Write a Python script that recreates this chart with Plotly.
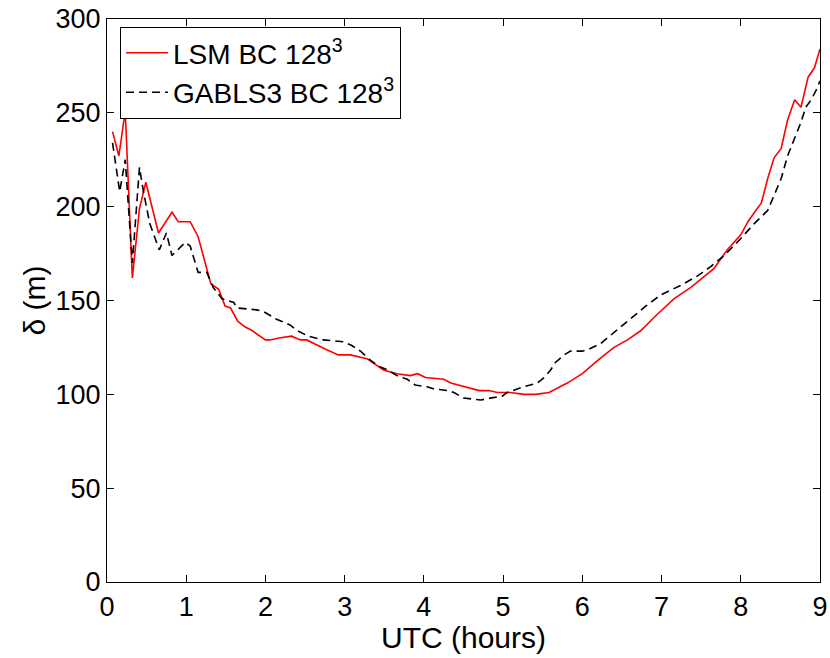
import plotly.graph_objects as go

# LSM BC 128^3 (red solid)
lsm_t = [0.07, 0.15, 0.23, 0.32, 0.41, 0.49, 0.65, 0.82, 0.90, 1.05, 1.15, 1.31, 1.41, 1.49,
         1.56, 1.65, 1.74, 1.83, 2.00, 2.06, 2.17, 2.33, 2.44, 2.52, 2.76, 2.92, 3.07, 3.28,
         3.49, 3.66, 3.83, 3.92, 4.02, 4.25, 4.34, 4.53, 4.70, 4.82, 4.93, 5.09, 5.26, 5.41,
         5.58, 5.81, 6.00, 6.11, 6.19, 6.40, 6.57, 6.74, 6.93, 7.16, 7.37, 7.66, 7.83, 8.00,
         8.09, 8.19, 8.26, 8.34, 8.42, 8.51, 8.59, 8.68, 8.76, 8.85, 8.93, 9.00]
lsm_d = [240, 227, 251, 162, 199, 213, 186, 197, 192, 192, 184, 159, 156, 147,
         146, 139, 136, 134, 129, 129, 130, 131, 129, 129, 124, 121, 121, 119,
         113, 111, 110, 111, 109, 108, 106, 104, 102, 102, 101, 101, 100, 100,
         101, 106, 111, 115, 118, 125, 129, 134, 142, 151, 157, 167, 177, 185,
         192, 198, 202, 215, 226, 231, 246, 257, 253, 269, 274, 284]

# GABLS3 BC 128^3 (black dashed)
gab_t = [0.07, 0.16, 0.23, 0.32, 0.41, 0.46, 0.54, 0.66, 0.75, 0.82, 0.99, 1.05, 1.15, 1.26,
         1.34, 1.45, 1.60, 1.64, 1.89, 1.98, 2.14, 2.31, 2.40, 2.54, 2.73, 2.99, 3.09, 3.20,
         3.30, 3.43, 3.54, 3.66, 3.79, 3.89, 4.04, 4.12, 4.29, 4.38, 4.50, 4.72, 4.84, 4.99,
         5.05, 5.18, 5.26, 5.43, 5.52, 5.60, 5.66, 5.77, 5.85, 6.00, 6.08, 6.23, 6.40, 6.61,
         6.80, 6.99, 7.24, 7.45, 7.62, 7.79, 8.00, 8.17, 8.34, 8.42, 8.51, 8.59, 8.68, 8.76,
         8.82, 8.89, 8.95, 9.00]
gab_d = [234, 208, 225, 170, 221, 208, 191, 177, 186, 174, 181, 179, 165, 165,
         157, 151, 149, 146, 145, 144, 140, 137, 134, 131, 129, 128, 126, 123,
         119, 115, 113, 110, 108, 105, 104, 103, 102, 101, 98, 97, 98, 99,
         101, 103, 104, 106, 109, 113, 117, 121, 123, 123, 124, 127, 133, 140,
         147, 153, 158, 163, 168, 174, 183, 191, 198, 206, 215, 227, 236, 245,
         253, 257, 262, 267]

x_ticks = list(range(0, 10))
y_ticks = list(range(0, 301, 50))
x_title = "UTC (hours)"
y_title = "δ (m)"

font_family = "Liberation Sans, Arial, Helvetica, sans-serif"

fig = go.Figure()
fig.add_trace(go.Scatter(x=lsm_t, y=lsm_d, mode="lines", name="LSM BC 128<sup>3</sup>",
                         line=dict(color="#ff0000", width=1.6)))
fig.add_trace(go.Scatter(x=gab_t, y=gab_d, mode="lines", name="GABLS3 BC 128<sup>3</sup>",
                         line=dict(color="#000000", width=1.6, dash="8px,5px")))

axis_common = dict(showline=True, linecolor="black", linewidth=1.2, mirror="ticks",
                   ticks="inside", ticklen=7, tickcolor="black", showgrid=False,
                   zeroline=False, automargin=False,
                   tickfont=dict(size=27, color="black"))

fig.update_layout(
    width=830, height=658,
    margin=dict(l=107, r=10, t=19, b=76),
    plot_bgcolor="white", paper_bgcolor="white",
    font=dict(family=font_family, color="black"),
    xaxis=dict(range=[0, 9], tickvals=x_ticks, **axis_common),
    yaxis=dict(range=[0, 300], tickvals=y_ticks, **axis_common),
    legend=dict(x=0.018, y=0.986, xanchor="left", yanchor="top",
                bgcolor="white", bordercolor="black", borderwidth=1.2,
                itemwidth=42,
                font=dict(size=28, color="black"), tracegroupgap=0),
    showlegend=True,
    annotations=[
        dict(text=x_title, xref="paper", yref="paper", x=0.5, y=-0.098,
             xanchor="center", yanchor="middle", showarrow=False,
             font=dict(size=30, color="black")),
        dict(text=y_title, xref="paper", yref="paper", x=-0.101, y=0.5,
             xanchor="center", yanchor="middle", showarrow=False, textangle=-90,
             font=dict(size=30, color="black")),
    ],
)

fig.write_html("out.html")
